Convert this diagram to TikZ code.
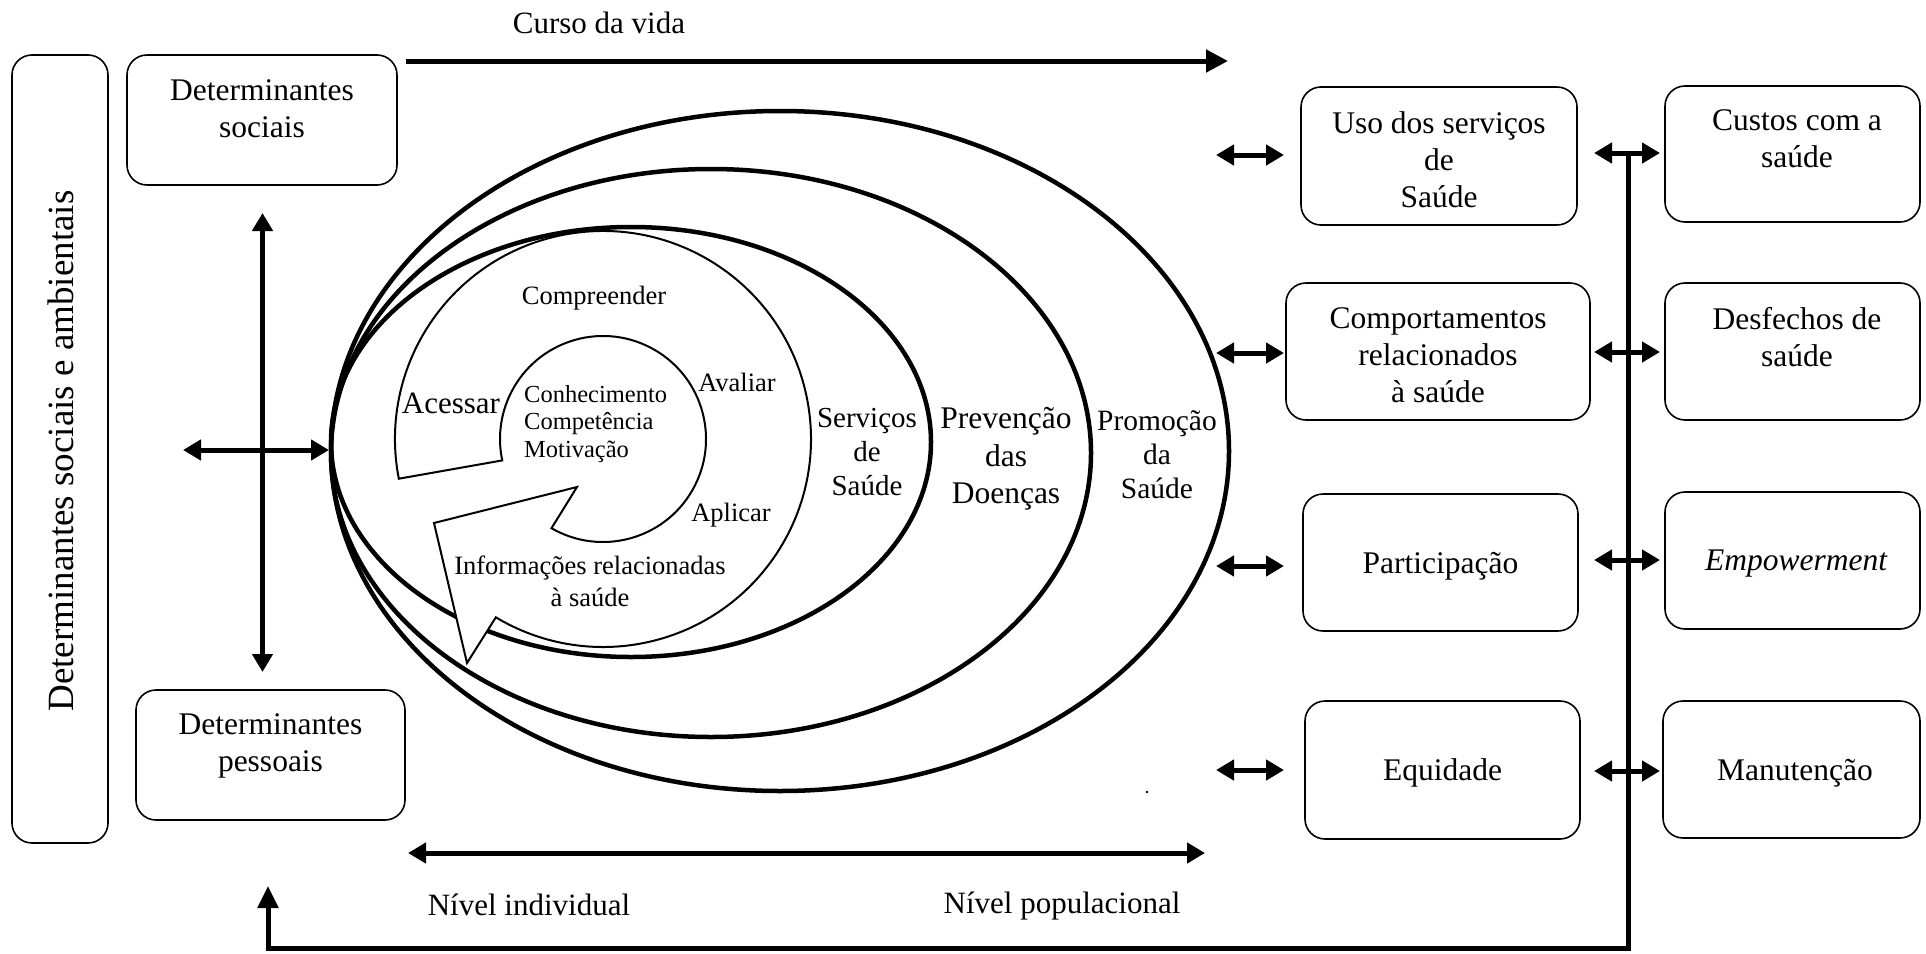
\documentclass[tikz,border=0pt]{standalone}
\usepackage{fontspec}
\setmainfont{Liberation Serif}
\usetikzlibrary{arrows.meta}
\newcommand{\fszBox}{\fontsize{31.5}{37}\selectfont}
\newcommand{\fszVert}{\fontsize{37}{44}\selectfont}
\newcommand{\fszRing}{\fontsize{26.5}{32}\selectfont}
\newcommand{\fszCore}{\fontsize{24.5}{27.5}\selectfont}
\newcommand{\fszAcc}{\fontsize{31}{37}\selectfont}
\newcommand{\fszServ}{\fontsize{29}{34}\selectfont}
\newcommand{\fszPrev}{\fontsize{31.5}{37.5}\selectfont}
\newcommand{\fszProm}{\fontsize{29.5}{34}\selectfont}
\tikzset{BigTip/.tip={Triangle[length=18pt,width=20pt]}}
\begin{document}
\begin{tikzpicture}[x=1pt,y=-1pt,
  box/.style={draw, line width=1.6pt, rounded corners=20pt, inner sep=0pt},
  txt/.style={align=center, inner sep=0pt, font=\fszBox},
  thk/.style={line width=5pt},
  dbl/.style={thk, BigTip-BigTip},
  sgl/.style={thk, -BigTip},
  ell/.style={line width=4.5pt},
  ring/.style={line width=2pt, fill=white}]
\useasboundingbox (0,0) rectangle (1926,953);

% left column
\node[box, minimum width=96, minimum height=788] (envbox) at (60,449) {};
\node[rotate=90, font=\fszVert, inner sep=0pt] (envtxt) at (61,451) {Determinantes sociais e ambientais};
\node[box, minimum width=270, minimum height=130] (detsoc) at (262,120) {};
\node[txt] (detsoct) at (262,109) {Determinantes\\sociais};
\node[box, minimum width=269, minimum height=130] (detpes) at (270.5,755) {};
\node[txt] (detpest) at (270.5,746) {Determinantes\\pessoais};

% cross arrows
\coordinate (vA) at (262.5,213);
\coordinate (vB) at (262.5,672);
\coordinate (hA) at (183,450);
\coordinate (hB) at (329,450);
\draw[dbl] (vA) -- (vB);
\draw[dbl] (hA) -- (hB);

% course of life
\node[font=\fszAcc, anchor=base, inner sep=0pt] (curso) at (599,33) {Curso da vida};
\coordinate (cvA) at (406,61);
\coordinate (cvB) at (1228,61);
\draw[thk, -{Triangle[length=22pt,width=22pt]}] (cvA) -- (cvB);

% ellipses
\draw[ell] (780,451) ellipse [x radius=449, y radius=340];
\draw[ell] (711,453) ellipse [x radius=380, y radius=284];
\draw[ell] (631,442) ellipse [x radius=300, y radius=215];

% ring arrow
\draw[ring] (398.8,478.7) arc[start angle=-191, end angle=121, radius=208]
  -- (467,663) -- (434,523) -- (577,487) -- (551.5,528.2)
  arc[start angle=120, end angle=-192, radius=103] -- cycle;

\node[font=\fszAcc, inner sep=0pt] (acessar) at (451,403) {Acessar};
\node[font=\fszRing, inner sep=0pt] (compr) at (594,298) {Compreender};
\node[font=\fszRing, inner sep=0pt] (avaliar) at (737,382) {Avaliar};
\node[font=\fszRing, inner sep=0pt] (aplicar) at (731,515) {Aplicar};
\node[font=\fszCore, inner sep=0pt, align=left, anchor=west] (core) at (524,424) {Conhecimento\\Competência\\Motivação};
\node[font=\fszRing, inner sep=0pt, align=center] (info) at (590,581) {Informações relacionadas\\à saúde};
\node[font=\fszServ, inner sep=0pt, align=center] (serv) at (867,452) {Serviços\\de\\Saúde};
\node[font=\fszPrev, inner sep=0pt, align=center] (prev) at (1006,459) {Prevenção\\das\\Doenças};
\node[font=\fszProm, inner sep=0pt, align=center] (prom) at (1157,455) {Promoção\\da\\Saúde};
\fill (1147,792) circle[radius=1.3];

% bottom level arrow
\coordinate (nA) at (408,853);
\coordinate (nB) at (1205,853);
\draw[dbl] (nA) -- (nB);
\node[font=\fszAcc, anchor=base, inner sep=0pt] (nind) at (529,915) {Nível individual};
\node[font=\fszAcc, anchor=base, inner sep=0pt] (npop) at (1062,913) {Nível populacional};

% right boxes column 1
\node[box, minimum width=276, minimum height=138] (uso) at (1439,156) {};
\node[txt] (usot) at (1439,160) {Uso dos serviços\\de\\Saúde};
\node[box, minimum width=304, minimum height=137] (comp) at (1438,351.5) {};
\node[txt] (compt) at (1438,355) {Comportamentos\\relacionados\\à saúde};
\node[box, minimum width=275, minimum height=137] (part) at (1440.5,562.5) {};
\node[txt] (partt) at (1440.5,566) {Participação};
\node[box, minimum width=275, minimum height=138] (equi) at (1442.5,770) {};
\node[txt] (equit) at (1442.5,773) {Equidade};

% right boxes column 2
\node[box, minimum width=255, minimum height=136] (cust) at (1792.5,154) {};
\node[txt] (custt) at (1797,139) {Custos com a\\saúde};
\node[box, minimum width=255, minimum height=137] (desf) at (1792.5,351.5) {};
\node[txt] (desft) at (1797,337) {Desfechos de\\saúde};
\node[box, minimum width=255, minimum height=137] (empw) at (1792.5,560.5) {};
\node[txt] (empwt) at (1796,564) {\itshape Empowerment};
\node[box, minimum width=257, minimum height=137] (manu) at (1791.5,769.5) {};
\node[txt] (manut) at (1795,773) {Manutenção};

% arrows ellipse <-> column 1
\foreach \n/\y in {a/155,b/353,c/566,d/770}{
  \coordinate (L\n) at (1216,\y);
  \coordinate (R\n) at (1284,\y);
  \draw[dbl] (L\n) -- (R\n);
}
% arrows column 1 <-> column 2
\foreach \n/\y in {a/153,b/352,c/560,d/771}{
  \coordinate (P\n) at (1594,\y);
  \coordinate (Q\n) at (1660,\y);
  \draw[dbl] (P\n) -- (Q\n);
}
% feedback loop
\coordinate (fbTop) at (1628,153);
\coordinate (fbBot) at (1628,948);
\coordinate (fbEnd) at (268,886);
\draw[thk, -{Triangle[length=22pt,width=20pt]}] (fbTop) -- (fbBot) -| (fbEnd);
\end{tikzpicture}
\end{document}
